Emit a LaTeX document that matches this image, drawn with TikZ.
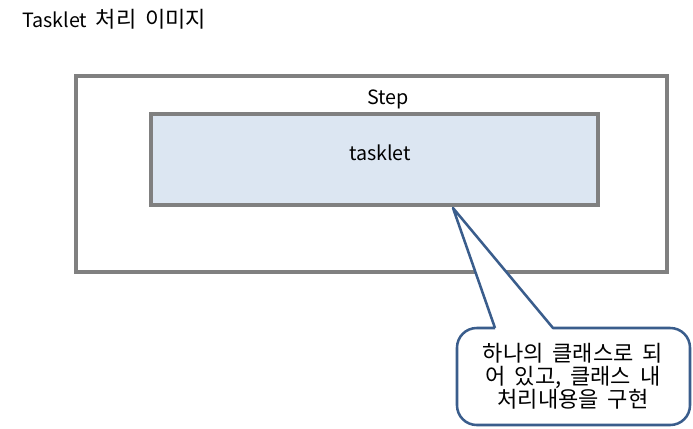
\documentclass[tikz,border=0pt]{standalone}
\usepackage{fontspec}
\setmainfont{Noto Sans CJK KR}
\newfontfamily\kr[Scale=1.12, WordSpace=1.8]{Noto Sans CJK KR}
\usetikzlibrary{positioning}

\definecolor{boxgray}{HTML}{808080}
\definecolor{taskfill}{HTML}{DCE6F2}
\definecolor{calloutblue}{HTML}{3A5D8C}

\tikzset{
  stepbox/.style={draw=boxgray, line width=2.2pt},
  taskbox/.style={draw=boxgray, fill=taskfill, line width=2.2pt},
  calloutline/.style={draw=calloutblue, fill=white, line width=1.8pt, line join=round},
  lbl/.style={font=\fontsize{14}{16}\selectfont, inner sep=0pt}
}

\begin{document}
\begin{tikzpicture}[x=0.025cm, y=-0.025cm]
\useasboundingbox (0,0) rectangle (693,429);

\node[lbl, anchor=west] (title) at (22,19) {Tasklet\hspace{6pt}{\kr 처리 이미지}};

\draw[stepbox] (76,76) rectangle (667,272);
\node[lbl] (steplbl) at (388,99) {Step};

\draw[taskbox] (151,114) rectangle (598,205);
\node[lbl] (tasklbl) at (380,153) {tasklet};

% callout with its pointer
\coordinate (tip) at (453,208);
\draw[calloutline] (495,328) -- (tip) -- (553,328)
  [rounded corners=14] -- (690,328) -- (690,425) -- (457,425) -- (457,328) [sharp corners] -- (495,328);
\node[lbl, align=center, font=\fontsize{14}{16.5}\selectfont\kr] (note) at (573,376)
  {하나의 클래스로 되\\어 있고, 클래스 내\\처리내용을 구현};

\end{tikzpicture}
\end{document}
